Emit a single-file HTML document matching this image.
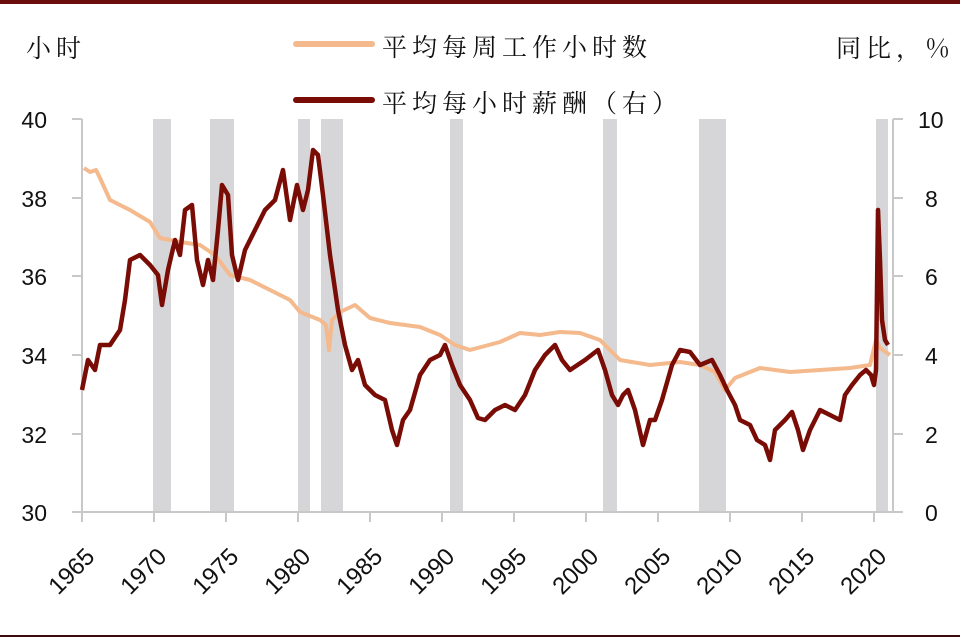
<!DOCTYPE html>
<html><head><meta charset="utf-8"><style>
body{margin:0;background:#fff}
svg{display:block}
text{font-family:"Liberation Sans","Noto Sans CJK SC",sans-serif;fill:#111}
.c{font-family:"Noto Serif CJK SC","Noto Sans CJK SC",serif;font-size:25px;letter-spacing:5px}
</style></head><body>
<svg width="960" height="640" viewBox="0 0 960 640" xmlns="http://www.w3.org/2000/svg">
<rect x="0" y="0" width="960" height="4" fill="#6b0d0d"/>
<rect x="0" y="635" width="960" height="2" fill="#3b0a0a"/>
<g fill="#d6d6d8">
<rect x="153" y="119" width="18" height="393"/>
<rect x="210" y="119" width="24" height="393"/>
<rect x="298" y="119" width="12" height="393"/>
<rect x="321" y="119" width="22" height="393"/>
<rect x="450" y="119" width="13" height="393"/>
<rect x="603" y="119" width="14" height="393"/>
<rect x="699" y="119" width="27" height="393"/>
<rect x="876" y="119" width="12" height="393"/>
</g>
<g stroke="#c8c8c8" stroke-width="2" fill="none">
<line x1="82" y1="119" x2="82" y2="512"/>
<line x1="72" y1="512" x2="893" y2="512"/>
<path d="M72 119H82M72 198H82M72 276H82M72 355H82M72 434H82"/>
<path d="M893 119H903M893 198H903M893 276H903M893 355H903M893 434H903M893 512H903"/>
<line x1="893" y1="119" x2="893" y2="512"/>
<path d="M82 512v10M154 512v10M226 512v10M298 512v10M370 512v10M442 512v10M514 512v10M586 512v10M658 512v10M730 512v10M802 512v10M874 512v10"/>
</g>
<polyline fill="none" stroke="#f4b98c" stroke-width="4" stroke-linejoin="round" points="84,168 90,172 96,170 100,178 110,200 130,210 150,222 160,238 180,242 200,245 215,255 230,275 250,280 270,290 290,300 300,312 320,320 326,325 329,350 332,320 340,312 355,305 370,318 390,323 420,327 440,335 455,345 470,350 500,342 520,333 540,335 560,332 580,333 600,340 620,360 650,365 680,362 700,365 715,372 725,390 735,378 760,368 790,372 820,370 850,368 870,365 876,340 880,348 890,355"/>
<polyline fill="none" stroke="#7a0c06" stroke-width="4.5" stroke-linejoin="round" points="82,390 88,360 95,370 100,345 110,345 120,330 125,300 130,260 140,255 150,265 158,275 162,305 168,270 175,240 180,255 185,210 192,205 197,260 203,285 208,260 213,280 218,230 222,185 228,195 232,255 238,280 245,250 255,230 265,210 275,200 283,170 290,220 297,185 303,210 308,190 313,150 318,155 323,195 330,255 338,310 345,345 352,370 358,360 365,385 375,395 385,400 392,430 397,445 403,420 410,410 420,375 430,360 440,355 445,345 452,365 460,385 470,400 478,418 485,420 495,410 505,405 515,410 525,395 535,370 545,355 555,345 562,360 570,370 585,360 598,350 605,370 612,395 618,405 623,395 628,390 635,410 643,445 650,420 655,420 662,400 672,365 680,350 690,352 700,365 712,360 720,375 727,390 735,405 740,420 750,425 757,440 765,445 770,460 775,430 785,420 792,412 798,430 803,450 810,430 820,410 830,415 840,420 845,395 852,385 860,375 866,370 871,375 874,385 876,370 878,210 880,260 882,320 885,340 888,345"/>
<g font-size="23" text-anchor="end">
<text x="47" y="128">40</text><text x="47" y="207">38</text><text x="47" y="285">36</text><text x="47" y="364">34</text><text x="47" y="443">32</text><text x="47" y="521">30</text>
</g>
<g font-size="23" text-anchor="start">
<text x="918" y="128">10</text><text x="925" y="207">8</text><text x="925" y="285">6</text><text x="925" y="364">4</text><text x="925" y="443">2</text><text x="925" y="521">0</text>
</g>
<g font-size="24" text-anchor="end">
<text transform="translate(96,558) rotate(-45)">1965</text>
<text transform="translate(168,558) rotate(-45)">1970</text>
<text transform="translate(240,558) rotate(-45)">1975</text>
<text transform="translate(312,558) rotate(-45)">1980</text>
<text transform="translate(384,558) rotate(-45)">1985</text>
<text transform="translate(456,558) rotate(-45)">1990</text>
<text transform="translate(528,558) rotate(-45)">1995</text>
<text transform="translate(600,558) rotate(-45)">2000</text>
<text transform="translate(672,558) rotate(-45)">2005</text>
<text transform="translate(744,558) rotate(-45)">2010</text>
<text transform="translate(816,558) rotate(-45)">2015</text>
<text transform="translate(888,558) rotate(-45)">2020</text>
</g>
<text class="c" x="26" y="57">小时</text>
<text class="c" x="836" y="57">同比，%</text>
<line x1="296" y1="44" x2="372" y2="44" stroke="#f4b98c" stroke-width="6" stroke-linecap="round"/>
<text class="c" x="382" y="56">平均每周工作小时数</text>
<line x1="296" y1="100" x2="372" y2="100" stroke="#7a0c06" stroke-width="6" stroke-linecap="round"/>
<text class="c" x="382" y="112">平均每小时薪酬（右）</text>
</svg>
</body></html>
